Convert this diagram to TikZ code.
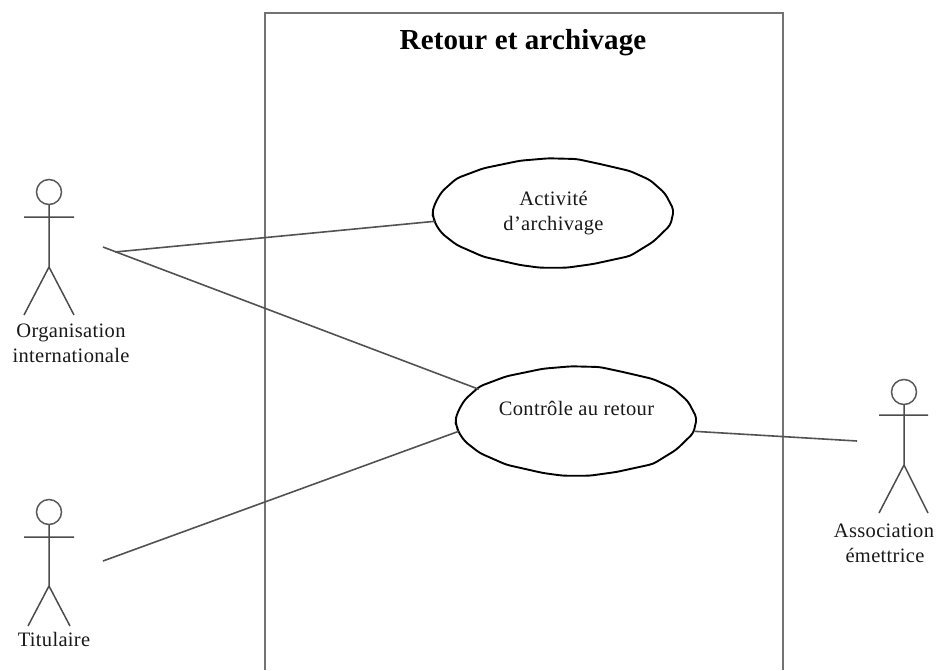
\documentclass[tikz,border=0pt]{standalone}
\usepackage{fontspec}
\setmainfont{Liberation Serif}[LetterSpace=1.6]
\newfontfamily\titlefont{Liberation Serif}[LetterSpace=0.5]
\usetikzlibrary{shapes.geometric}
\def\ucoutline{(-5.2,-54.7) -- (23.2,-54) -- (46.5,-49) -- (76.5,-42) -- (96.5,-33) -- (111.5,-19.7) -- (120.3,-3) -- (117,12) -- (99.8,28.7) -- (76.5,43) -- (39.8,51) -- (13.2,54.7) -- (-13.5,54.7) -- (-33.5,52) -- (-70.2,43.7) -- (-96.8,32) -- (-111.8,20.3) -- (-118.5,10.3) -- (-119.5,5.3) -- (-121.5,0.3) -- (-118.5,-9.7) -- (-111.8,-21.3) -- (-96.8,-34.7) -- (-70.2,-44.7) -- (-33.5,-52.3) -- cycle}
\tikzset{
  lbl/.style={font=\fontsize{20.5}{25.5}\selectfont,align=center,inner sep=0pt,text=black!90},
  titlelbl/.style={font=\fontsize{29}{32}\titlefont\bfseries,inner sep=0pt,text=black},
  usecase/.style={ellipse,fill=white,minimum width=240pt,minimum height=109pt,inner sep=0pt,outer sep=0pt,lbl},
  ucline/.style={draw=black,line width=1.9pt,line join=round,rounded corners=4pt},
  head/.style={circle,draw=black!65,line width=1.5pt,minimum size=25pt,inner sep=0pt,outer sep=0pt},
  limb/.style={draw=black!70,line width=1.5pt},
  assoc/.style={draw=black!68,line width=1.6pt},
  boundary/.style={draw=black!55,line width=2.2pt}
}
\begin{document}
\begin{tikzpicture}[x=1pt,y=-1pt]
\useasboundingbox (0,0) rectangle (937,670);
% system boundary
\coordinate (bl) at (265,670);
\coordinate (tl) at (265,13);
\coordinate (tr) at (783,13);
\coordinate (br) at (783,670);
\draw[boundary] (bl) -- (tl) -- (tr) -- (br);
\node[titlelbl,anchor=base] (title) at (523,49) {Retour et archivage};
% free ends of associations
\coordinate (orgA) at (115,252);
\coordinate (orgB) at (103,247);
\coordinate (tit) at (103,561);
\coordinate (emet) at (857,441);
% use cases
\node[usecase] (uc1) at (553.5,213) {Activité\\d’archivage};
\node[usecase] (uc2) at (576.5,421) {Contrôle au retour\\\mbox{}};
\draw[ucline,shift={(uc1.center)}] \ucoutline;
\draw[ucline,shift={(uc2.center)}] \ucoutline;
\draw[assoc] (orgA) -- (uc1.184.4);
\draw[assoc] (orgB) -- (uc2.162.7);
\draw[assoc] (tit) -- (uc2.185.9);
\draw[assoc] (uc2.-5.2) -- (emet);
% actor: Organisation internationale
\node[head] (h1) at (49,192) {};
\coordinate (p1) at (49,267);
\coordinate (a1l) at (24,217);
\coordinate (a1r) at (74,217);
\coordinate (f1l) at (24,315);
\coordinate (f1r) at (74,315);
\draw[limb] (h1.south) -- (p1) (a1l) -- (a1r) (f1l) -- (p1) -- (f1r);
\node[lbl,anchor=base] (l1a) at (71,337) {Organisation};
\node[lbl,anchor=base] (l1b) at (71,362) {internationale};
% actor: Titulaire
\node[head] (h2) at (49,512) {};
\coordinate (p2) at (49,586);
\coordinate (a2l) at (24,537);
\coordinate (a2r) at (74,537);
\coordinate (f2l) at (28,626);
\coordinate (f2r) at (70,626);
\draw[limb] (h2.south) -- (p2) (a2l) -- (a2r) (f2l) -- (p2) -- (f2r);
\node[lbl,anchor=base] (l2) at (54,646) {Titulaire};
% actor: Association emettrice
\node[head] (h3) at (904,392) {};
\coordinate (p3) at (904,465);
\coordinate (a3l) at (879,415);
\coordinate (a3r) at (928,415);
\coordinate (f3l) at (879,513);
\coordinate (f3r) at (928,513);
\draw[limb] (h3.south) -- (p3) (a3l) -- (a3r) (f3l) -- (p3) -- (f3r);
\node[lbl,anchor=base] (l3a) at (884,537) {Association};
\node[lbl,anchor=base] (l3b) at (885,562) {émettrice};
\end{tikzpicture}
\end{document}
